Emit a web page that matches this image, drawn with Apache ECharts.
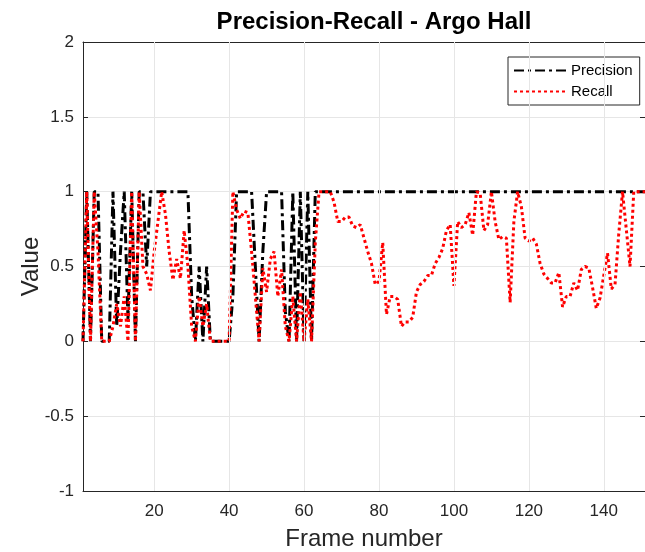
<!DOCTYPE html>
<html><head><meta charset="utf-8">
<script src="https://cdn.jsdelivr.net/npm/echarts@6/dist/echarts.min.js"></script>
<style>html,body{margin:0;padding:0;background:#fff}#c{width:645px;height:552px}</style>
</head><body><div id="c"></div>
<script>
const titleText = 'Precision-Recall - Argo Hall';
const xTicks = [20, 40, 60, 80, 100, 120, 140];
const frameFirst = 1, frameLast = 151;
const precision = [
  0, 1, 0, 1, 1, 0, 0, 0, 1, 0.1,
  0.6, 1, 0.15, 1, 0, 1, 1, 0.5, 1, 1,
  1, 1, 1, 1, 1, 1, 1, 1, 1, 0.3,
  0, 0.5, 0, 0.5, 0, 0, 0, 0, 0, 0,
  0.3, 1, 1, 1, 1, 1, 0.5, 0, 0.6, 1,
  1, 1, 1, 1, 0.2, 0, 1, 0, 1, 0,
  1, 0, 1, 1, 1, 1, 1, 1, 1, 1,
  1, 1, 1, 1, 1, 1, 1, 1, 1, 1,
  1, 1, 1, 1, 1, 1, 1, 1, 1, 1,
  1, 1, 1, 1, 1, 1, 1, 1, 1, 1,
  1, 1, 1, 1, 1, 1, 1, 1, 1, 1,
  1, 1, 1, 1, 1, 1, 1, 1, 1, 1,
  1, 1, 1, 1, 1, 1, 1, 1, 1, 1,
  1, 1, 1, 1, 1, 1, 1, 1, 1, 1,
  1, 1, 1, 1, 1, 1, 1, 1, 1, 1,
  1
];
const recall = [
  0, 1, 0, 1, 0.6, 0, 0, 0, 0.1, 0.25,
  0.1, 0.3, 0, 1, 0, 1, 0.5, 0.45, 0.34, 0.6,
  0.8, 1, 0.85, 0.6, 0.41, 0.55, 0.42, 0.74, 0.5, 0.1,
  0, 0.3, 0.1, 0.25, 0, 0, 0, 0, 0, 0,
  1, 0.88, 0.82, 0.87, 0.86, 0.6, 0.3, 0, 0.49, 0.33,
  0.55, 0.6, 0.3, 0.48, 0.1, 0, 0.3, 0, 0.33, 0,
  0.28, 0, 0.66, 1, 1, 1, 1, 0.93, 0.8, 0.8,
  0.83, 0.83, 0.77, 0.76, 0.78, 0.69, 0.6, 0.52, 0.38, 0.4,
  0.66, 0.18, 0.3, 0.3, 0.28, 0.1, 0.13, 0.13, 0.16, 0.33,
  0.38, 0.4, 0.44, 0.44, 0.52, 0.56, 0.62, 0.74, 0.78, 0.37,
  0.8, 0.76, 0.78, 0.86, 0.71, 1, 0.99, 0.74, 0.78, 1,
  0.8, 0.68, 0.7, 0.69, 0.26, 0.8, 1, 0.9, 0.69, 0.67,
  0.69, 0.65, 0.52, 0.45, 0.42, 0.39, 0.39, 0.46, 0.23, 0.3,
  0.3, 0.39, 0.34, 0.48, 0.5, 0.49, 0.36, 0.22, 0.29, 0.44,
  0.59, 0.35, 0.38, 0.72, 1, 0.75, 0.5, 1, 1, 1,
  1
];

const toPairs = arr => arr.map((v, i) => [frameFirst + i, v]);
const axisColor = '#262626';
const font = 'Liberation Sans';

const chart = echarts.init(document.getElementById('c'), null, {renderer: 'canvas'});
const commonX = {
  type: 'value', min: frameFirst, max: frameLast,
  axisLine: {show: true, onZero: false, lineStyle: {color: axisColor, width: 1}},
  axisTick: {show: true, inside: true, length: 5, customValues: xTicks, lineStyle: {color: axisColor}},
  splitLine: {show: false}
};
const commonY = {
  type: 'value', min: -1, max: 2, interval: 0.5,
  axisLine: {show: true, onZero: false, lineStyle: {color: axisColor, width: 1}},
  axisTick: {show: true, inside: true, length: 5, lineStyle: {color: axisColor}}
};
chart.setOption({
  animation: false,
  textStyle: {fontFamily: font},
  title: {
    text: titleText, left: 369, top: 5, textAlign: 'center',
    textStyle: {fontSize: 24, fontWeight: 'bold', color: '#000', fontFamily: font}
  },
  legend: {
    data: ['Precision', 'Recall'],
    orient: 'vertical', left: 508, top: 57,
    padding: [6, 7, 6, 5], itemWidth: 52, itemHeight: 14, itemGap: 6,
    itemStyle: {opacity: 0, borderWidth: 0},
    borderColor: axisColor, borderWidth: 1, backgroundColor: '#fff',
    textStyle: {fontSize: 15, color: '#000', fontFamily: font}
  },
  grid: {left: 83, right: 0, top: 42, bottom: 61, containLabel: false, outerBoundsMode: 'none'},
  xAxis: [
    Object.assign({}, commonX, {
      position: 'bottom',
      axisLabel: {customValues: xTicks, fontSize: 17, color: axisColor, margin: 12, fontFamily: font},
      name: 'Frame number', nameLocation: 'middle', nameGap: 36, nameMoveOverlap: false,
      nameTextStyle: {fontSize: 24, color: axisColor, fontFamily: font}
    }),
    Object.assign({}, commonX, {position: 'top', axisLabel: {show: false}})
  ],
  yAxis: [
    Object.assign({}, commonY, {
      position: 'left',
      axisLabel: {fontSize: 17, color: axisColor, margin: 9, fontFamily: font},
      splitLine: {show: true, lineStyle: {color: '#e6e6e6', width: 1}},
      name: 'Value', nameLocation: 'middle', nameGap: 40, nameMoveOverlap: false,
      nameTextStyle: {fontSize: 24, color: axisColor, fontFamily: font}
    }),
    Object.assign({}, commonY, {position: 'right', axisLabel: {show: false}, splitLine: {show: false}})
  ],
  series: [
    {
      name: 'xgrid', type: 'line', data: [], z: 1, silent: true,
      markLine: {
        silent: true, symbol: ['none', 'none'], label: {show: false}, animation: false,
        lineStyle: {color: '#e6e6e6', type: 'solid', width: 1},
        data: xTicks.map(v => ({xAxis: v}))
      }
    },
    {
      name: 'Precision', type: 'line', data: toPairs(precision), showSymbol: false, symbol: 'none',
      z: 3, lineStyle: {color: '#000', width: 3, type: [10, 4, 3, 4]}, itemStyle: {color: '#000'}
    },
    {
      name: 'Recall', type: 'line', data: toPairs(recall), showSymbol: false, symbol: 'none',
      z: 4, lineStyle: {color: '#ff0000', width: 3, type: [3, 3]}, itemStyle: {color: '#ff0000'}
    }
  ]
});
</script>
</body></html>
